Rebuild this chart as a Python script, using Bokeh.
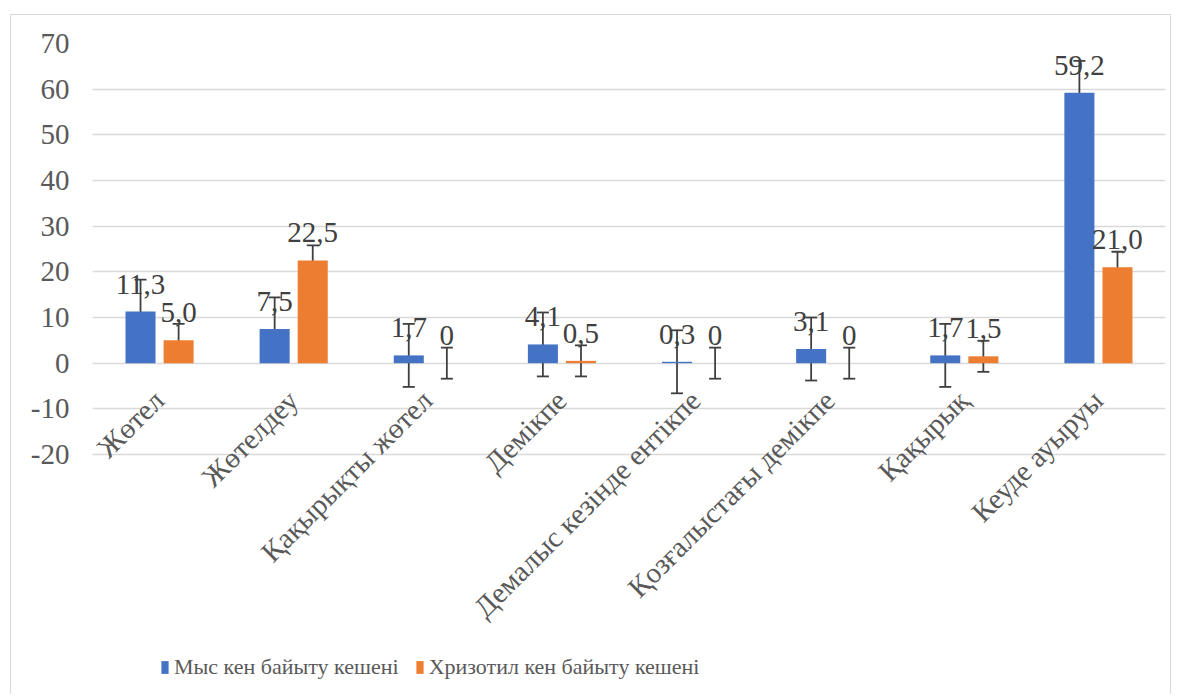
import math
from bokeh.plotting import figure
from bokeh.models import (ColumnDataSource, LabelSet, Whisker, TeeHead, Legend, LegendItem,
                          FactorRange, Range1d, FixedTicker)
from bokeh.transform import dodge
from bokeh.core.properties import value
from bokeh.embed import file_html
from bokeh.resources import INLINE

categories = ["Жөтел", "Жөтелдеу", "Қақырықты жөтел", "Демікпе",
              "Демалыс кезінде ентікпе", "Қозғалыстағы демікпе", "Қақырық", "Кеуде ауыруы"]
series_names = ["Мыс кен байыту кешені", "Хризотил кен байыту кешені"]
mys = [11.3, 7.5, 1.7, 4.1, 0.3, 3.1, 1.7, 59.2]
hriz = [5.0, 22.5, 0.0, 0.5, 0.0, 0.0, 1.5, 21.0]
mys_err = [7.0, 6.9, 6.9, 7.0, 6.9, 6.9, 6.9, 7.0]
hriz_err = [3.6, 3.3, 3.4, 3.4, 3.4, 3.4, 3.4, 3.4]
mys_labels = ["11,3", "7,5", "1,7", "4,1", "0,3", "3,1", "1,7", "59,2"]
hriz_labels = ["5,0", "22,5", "0", "0,5", "0", "0", "1,5", "21,0"]
y_ticks = [-20, -10, 0, 10, 20, 30, 40, 50, 60, 70]
y_tick_labels = ["-20", "-10", "0", "10", "20", "30", "40", "50", "60", "70"]

FONT = "Liberation Serif"
QFONT = "'Liberation Serif'"
BLUE = "#4472C4"
ORANGE = "#ED7D31"

# layout (pixels)
W, H = 1161, 680
ML, MR, MT, MB = 81, 7, 28, 0
Y_TOP = 70
PX_PER_UNIT = 411 / 90.0
Y_BOTTOM = Y_TOP - (H - MT - MB) / PX_PER_UNIT

src = ColumnDataSource(dict(
    cat=categories,
    mys=mys, hriz=hriz,
    mys_up=[v + e for v, e in zip(mys, mys_err)],
    mys_lo=[v - e for v, e in zip(mys, mys_err)],
    hriz_up=[v + e for v, e in zip(hriz, hriz_err)],
    hriz_lo=[v - e for v, e in zip(hriz, hriz_err)],
    mys_lab=mys_labels, hriz_lab=hriz_labels,
    lab_y=[-4.6] * len(categories),
))

p = figure(x_range=FactorRange(*categories, range_padding=0), y_range=Range1d(Y_BOTTOM, Y_TOP),
           width=W, height=H, output_backend="svg", toolbar_location=None,
           min_border_left=ML, min_border_right=MR, min_border_top=MT, min_border_bottom=MB)
p.margin = (14, 0, 0, 10)
p.styles = {"border-left": "1px solid #d9d9d9", "border-top": "1px solid #d9d9d9",
            "border-right": "1px solid #d9d9d9"}
p.outline_line_color = None
p.background_fill_color = "white"
p.border_fill_color = "white"

p.xaxis.visible = False
p.xgrid.grid_line_color = None
p.ygrid.grid_line_color = "#d9d9d9"
p.ygrid.grid_line_width = 1.5
p.ygrid.ticker = FixedTicker(ticks=y_ticks)
p.yaxis.ticker = FixedTicker(ticks=y_ticks)
p.yaxis.major_label_overrides = {t: s for t, s in zip(y_ticks, y_tick_labels)}
p.yaxis.axis_line_color = None
p.yaxis.major_tick_line_color = None
p.yaxis.minor_tick_line_color = None
p.yaxis.major_label_text_font = QFONT
p.yaxis.major_label_text_font_size = "29px"
p.yaxis.major_label_text_color = "#595959"
p.yaxis.major_label_standoff = 17

off = 0.142
bw = 0.224
r1 = p.vbar(x=dodge("cat", -off, range=p.x_range), top="mys", width=bw, source=src,
            fill_color=BLUE, line_color=None)
r2 = p.vbar(x=dodge("cat", off, range=p.x_range), top="hriz", width=bw, source=src,
            fill_color=ORANGE, line_color=None)

ERR = "#404040"
for fld, o in (("mys", -off), ("hriz", off)):
    w = Whisker(source=src, base=dodge("cat", o, range=p.x_range), upper=fld + "_up", lower=fld + "_lo",
                line_color=ERR, line_width=1.8,
                upper_head=TeeHead(size=12, line_color=ERR, line_width=1.8),
                lower_head=TeeHead(size=12, line_color=ERR, line_width=1.8))
    p.add_layout(w)

for fld, o in (("mys", -off), ("hriz", off)):
    ls = LabelSet(source=src, x=dodge("cat", o, range=p.x_range), y=fld, text=fld + "_lab",
                  y_offset=18, text_align="center", text_baseline="alphabetic",
                  text_font=value(FONT), text_font_size="29px", text_color="#404040")
    p.add_layout(ls)

cl = LabelSet(source=src, x=dodge("cat", 0.0, range=p.x_range), y="lab_y", text="cat",
              x_offset=-12, angle=math.pi / 4, text_align="right", text_baseline="top",
              text_font=value(FONT), text_font_size="29px", text_color="#595959")
p.add_layout(cl)

legend = Legend(items=[LegendItem(label=series_names[0], renderers=[r1]),
                       LegendItem(label=series_names[1], renderers=[r2])],
                location=(68, 15), orientation="horizontal",
                glyph_width=9, glyph_height=16, label_standoff=5, spacing=16,
                label_text_font=QFONT, label_text_font_size="22px", label_text_color="#595959",
                border_line_alpha=0, background_fill_alpha=0, padding=0, margin=0)
p.add_layout(legend)

open("out.html", "w").write(file_html(p, INLINE))
